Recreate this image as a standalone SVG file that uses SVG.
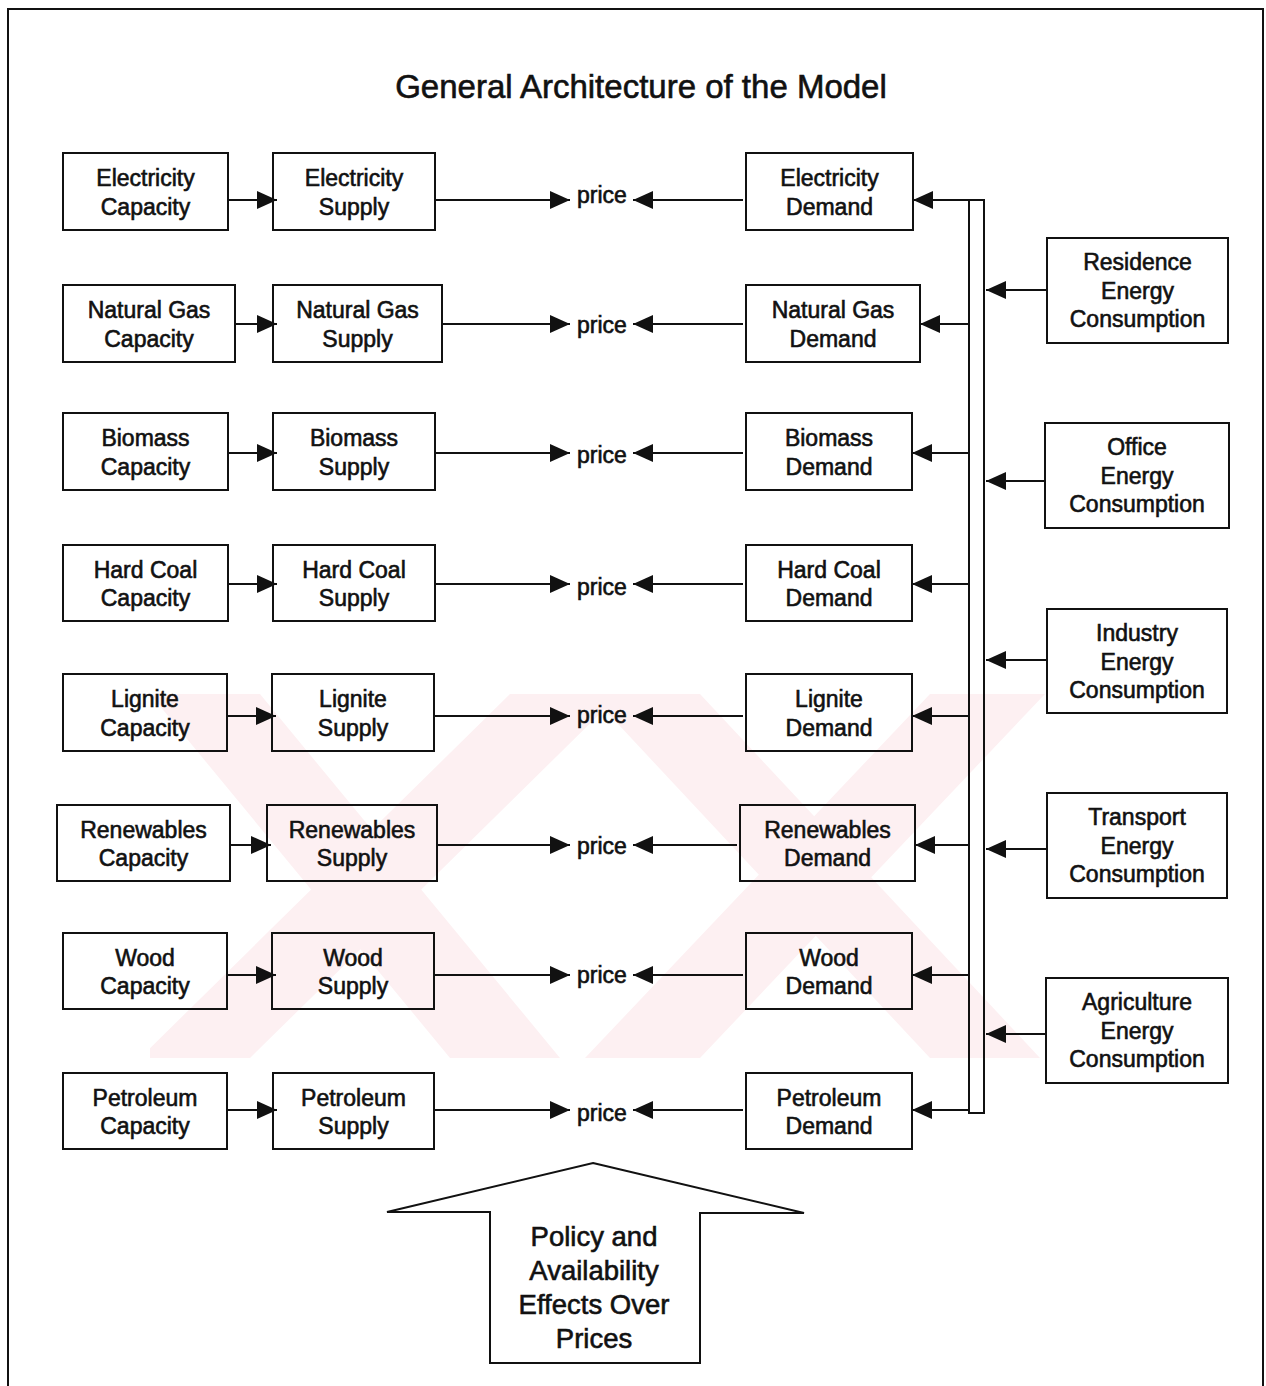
<svg xmlns="http://www.w3.org/2000/svg" width="1266" height="1386" viewBox="0 0 1266 1386">
  <defs>
    <marker id="ah" markerUnits="userSpaceOnUse" markerWidth="22" markerHeight="20" refX="20" refY="9" orient="auto">
      <path d="M0,0 L20,9 L0,18 z" fill="#111"/>
    </marker>
    <clipPath id="wmclip"><rect x="150" y="694" width="895" height="364"/></clipPath>
    <style>
      .box{fill:none;stroke:#111;stroke-width:2}
      .t{font-family:"Liberation Sans",Arial,sans-serif;font-size:23px;fill:#111;stroke:#111;stroke-width:0.6;text-anchor:middle}
      .title{font-size:33px}
      .big{font-size:27.5px}
      .c{fill:none;stroke:#111;stroke-width:2}
      .ca{fill:none;stroke:#111;stroke-width:2;marker-end:url(#ah)}
      .wm{fill:#fdf0f2}
    </style>
  </defs>
  <rect x="0" y="0" width="1266" height="1386" fill="#fff"/>
  <g id="watermark" clip-path="url(#wmclip)">
    <polygon class="wm" points="150,694 260,694 560,1058 450,1058"/>
    <polygon class="wm" points="510,694 620,694 250,1058 140,1058"/>
    <polygon class="wm" points="590,694 700,694 1040,1058 930,1058"/>
    <polygon class="wm" points="930,694 1045,694 700,1058 585,1058"/>
  </g>
  <path d="M8,1386 V9 H1263 V1386" fill="none" stroke="#111" stroke-width="2"/>
  <text class="t title" x="641" y="98">General Architecture of the Model</text>

  <g id="connectors">
    <!-- capacity to supply -->
    <line class="ca" x1="228" y1="200" x2="277" y2="200"/>
    <line class="ca" x1="235" y1="324" x2="277" y2="324"/>
    <line class="ca" x1="228" y1="453" x2="277" y2="453"/>
    <line class="ca" x1="228" y1="584" x2="277" y2="584"/>
    <line class="ca" x1="227" y1="716" x2="276" y2="716"/>
    <line class="ca" x1="230" y1="845" x2="271" y2="845"/>
    <line class="ca" x1="227" y1="975" x2="276" y2="975"/>
    <line class="ca" x1="227" y1="1110" x2="277" y2="1110"/>
    <!-- supply to price -->
    <line class="ca" x1="435" y1="200" x2="570" y2="200"/>
    <line class="ca" x1="442" y1="324" x2="570" y2="324"/>
    <line class="ca" x1="435" y1="453" x2="570" y2="453"/>
    <line class="ca" x1="435" y1="584" x2="570" y2="584"/>
    <line class="ca" x1="434" y1="716" x2="570" y2="716"/>
    <line class="ca" x1="437" y1="845" x2="570" y2="845"/>
    <line class="ca" x1="434" y1="975" x2="570" y2="975"/>
    <line class="ca" x1="434" y1="1110" x2="570" y2="1110"/>
    <!-- demand to price -->
    <line class="ca" x1="743" y1="200" x2="633" y2="200"/>
    <line class="ca" x1="743" y1="324" x2="633" y2="324"/>
    <line class="ca" x1="743" y1="453" x2="633" y2="453"/>
    <line class="ca" x1="743" y1="584" x2="633" y2="584"/>
    <line class="ca" x1="743" y1="716" x2="633" y2="716"/>
    <line class="ca" x1="737" y1="845" x2="633" y2="845"/>
    <line class="ca" x1="743" y1="975" x2="633" y2="975"/>
    <line class="ca" x1="743" y1="1110" x2="633" y2="1110"/>
    <!-- bus -->
    <rect class="c" x="969" y="200" width="15" height="913"/>
    <!-- bus to demand -->
    <line class="ca" x1="969" y1="200" x2="913" y2="200"/>
    <line class="ca" x1="969" y1="324" x2="920" y2="324"/>
    <line class="ca" x1="969" y1="453" x2="912" y2="453"/>
    <line class="ca" x1="969" y1="584" x2="912" y2="584"/>
    <line class="ca" x1="969" y1="716" x2="912" y2="716"/>
    <line class="ca" x1="969" y1="845" x2="915" y2="845"/>
    <line class="ca" x1="969" y1="975" x2="912" y2="975"/>
    <line class="ca" x1="969" y1="1110" x2="912" y2="1110"/>
    <!-- consumption to bus -->
    <line class="ca" x1="1047" y1="290" x2="986" y2="290"/>
    <line class="ca" x1="1045" y1="481" x2="986" y2="481"/>
    <line class="ca" x1="1047" y1="660" x2="986" y2="660"/>
    <line class="ca" x1="1047" y1="849" x2="986" y2="849"/>
    <line class="ca" x1="1046" y1="1034" x2="986" y2="1034"/>
  </g>

  <g id="prices">
    <text class="t" x="602" y="203">price</text>
    <text class="t" x="602" y="333">price</text>
    <text class="t" x="602" y="463">price</text>
    <text class="t" x="602" y="595">price</text>
    <text class="t" x="602" y="723">price</text>
    <text class="t" x="602" y="854">price</text>
    <text class="t" x="602" y="983">price</text>
    <text class="t" x="602" y="1121">price</text>
  </g>

  <!-- Row 1 -->
  <g id="elec-cap"><rect class="box" x="63" y="153" width="165" height="77"/><text class="t" x="145.5" y="186">Electricity</text><text class="t" x="145.5" y="215">Capacity</text></g>
  <g id="elec-sup"><rect class="box" x="273" y="153" width="162" height="77"/><text class="t" x="354" y="186">Electricity</text><text class="t" x="354" y="215">Supply</text></g>
  <g id="elec-dem"><rect class="box" x="746" y="153" width="167" height="77"/><text class="t" x="829.5" y="186">Electricity</text><text class="t" x="829.5" y="215">Demand</text></g>
  <!-- Row 2 -->
  <g id="gas-cap"><rect class="box" x="63" y="285" width="172" height="77"/><text class="t" x="149" y="318">Natural Gas</text><text class="t" x="149" y="347">Capacity</text></g>
  <g id="gas-sup"><rect class="box" x="273" y="285" width="169" height="77"/><text class="t" x="357.5" y="318">Natural Gas</text><text class="t" x="357.5" y="347">Supply</text></g>
  <g id="gas-dem"><rect class="box" x="746" y="285" width="174" height="77"/><text class="t" x="833" y="318">Natural Gas</text><text class="t" x="833" y="347">Demand</text></g>
  <!-- Row 3 -->
  <g id="bio-cap"><rect class="box" x="63" y="413" width="165" height="77"/><text class="t" x="145.5" y="446">Biomass</text><text class="t" x="145.5" y="475">Capacity</text></g>
  <g id="bio-sup"><rect class="box" x="273" y="413" width="162" height="77"/><text class="t" x="354" y="446">Biomass</text><text class="t" x="354" y="475">Supply</text></g>
  <g id="bio-dem"><rect class="box" x="746" y="413" width="166" height="77"/><text class="t" x="829" y="446">Biomass</text><text class="t" x="829" y="475">Demand</text></g>
  <!-- Row 4 -->
  <g id="coal-cap"><rect class="box" x="63" y="545" width="165" height="76"/><text class="t" x="145.5" y="578">Hard Coal</text><text class="t" x="145.5" y="606">Capacity</text></g>
  <g id="coal-sup"><rect class="box" x="273" y="545" width="162" height="76"/><text class="t" x="354" y="578">Hard Coal</text><text class="t" x="354" y="606">Supply</text></g>
  <g id="coal-dem"><rect class="box" x="746" y="545" width="166" height="76"/><text class="t" x="829" y="578">Hard Coal</text><text class="t" x="829" y="606">Demand</text></g>
  <!-- Row 5 -->
  <g id="lig-cap"><rect class="box" x="63" y="674" width="164" height="77"/><text class="t" x="145" y="707">Lignite</text><text class="t" x="145" y="736">Capacity</text></g>
  <g id="lig-sup"><rect class="box" x="272" y="674" width="162" height="77"/><text class="t" x="353" y="707">Lignite</text><text class="t" x="353" y="736">Supply</text></g>
  <g id="lig-dem"><rect class="box" x="746" y="674" width="166" height="77"/><text class="t" x="829" y="707">Lignite</text><text class="t" x="829" y="736">Demand</text></g>
  <!-- Row 6 -->
  <g id="ren-cap"><rect class="box" x="57" y="805" width="173" height="76"/><text class="t" x="143.5" y="838">Renewables</text><text class="t" x="143.5" y="866">Capacity</text></g>
  <g id="ren-sup"><rect class="box" x="267" y="805" width="170" height="76"/><text class="t" x="352" y="838">Renewables</text><text class="t" x="352" y="866">Supply</text></g>
  <g id="ren-dem"><rect class="box" x="740" y="805" width="175" height="76"/><text class="t" x="827.5" y="838">Renewables</text><text class="t" x="827.5" y="866">Demand</text></g>
  <!-- Row 7 -->
  <g id="wood-cap"><rect class="box" x="63" y="933" width="164" height="76"/><text class="t" x="145" y="966">Wood</text><text class="t" x="145" y="994">Capacity</text></g>
  <g id="wood-sup"><rect class="box" x="272" y="933" width="162" height="76"/><text class="t" x="353" y="966">Wood</text><text class="t" x="353" y="994">Supply</text></g>
  <g id="wood-dem"><rect class="box" x="746" y="933" width="166" height="76"/><text class="t" x="829" y="966">Wood</text><text class="t" x="829" y="994">Demand</text></g>
  <!-- Row 8 -->
  <g id="pet-cap"><rect class="box" x="63" y="1073" width="164" height="76"/><text class="t" x="145" y="1106">Petroleum</text><text class="t" x="145" y="1134">Capacity</text></g>
  <g id="pet-sup"><rect class="box" x="273" y="1073" width="161" height="76"/><text class="t" x="353.5" y="1106">Petroleum</text><text class="t" x="353.5" y="1134">Supply</text></g>
  <g id="pet-dem"><rect class="box" x="746" y="1073" width="166" height="76"/><text class="t" x="829" y="1106">Petroleum</text><text class="t" x="829" y="1134">Demand</text></g>

  <!-- Consumption sectors -->
  <g id="residence"><rect class="box" x="1047" y="238" width="181" height="105"/><text class="t" x="1137.5" y="270">Residence</text><text class="t" x="1137.5" y="299">Energy</text><text class="t" x="1137.5" y="327">Consumption</text></g>
  <g id="office"><rect class="box" x="1045" y="423" width="184" height="105"/><text class="t" x="1137" y="455">Office</text><text class="t" x="1137" y="484">Energy</text><text class="t" x="1137" y="512">Consumption</text></g>
  <g id="industry"><rect class="box" x="1047" y="609" width="180" height="104"/><text class="t" x="1137" y="641">Industry</text><text class="t" x="1137" y="670">Energy</text><text class="t" x="1137" y="698">Consumption</text></g>
  <g id="transport"><rect class="box" x="1047" y="793" width="180" height="105"/><text class="t" x="1137" y="825">Transport</text><text class="t" x="1137" y="854">Energy</text><text class="t" x="1137" y="882">Consumption</text></g>
  <g id="agriculture"><rect class="box" x="1046" y="978" width="182" height="105"/><text class="t" x="1137" y="1010">Agriculture</text><text class="t" x="1137" y="1039">Energy</text><text class="t" x="1137" y="1067">Consumption</text></g>

  <!-- Policy block arrow -->
  <g id="policy">
    <polygon points="593,1163 804,1213 700,1213 700,1363 490,1363 490,1212 387,1212" fill="none" stroke="#111" stroke-width="2" stroke-linejoin="miter"/>
    <text class="t big" x="594" y="1246">Policy and</text>
    <text class="t big" x="594" y="1280">Availability</text>
    <text class="t big" x="594" y="1314">Effects Over</text>
    <text class="t big" x="594" y="1348">Prices</text>
  </g>
</svg>
